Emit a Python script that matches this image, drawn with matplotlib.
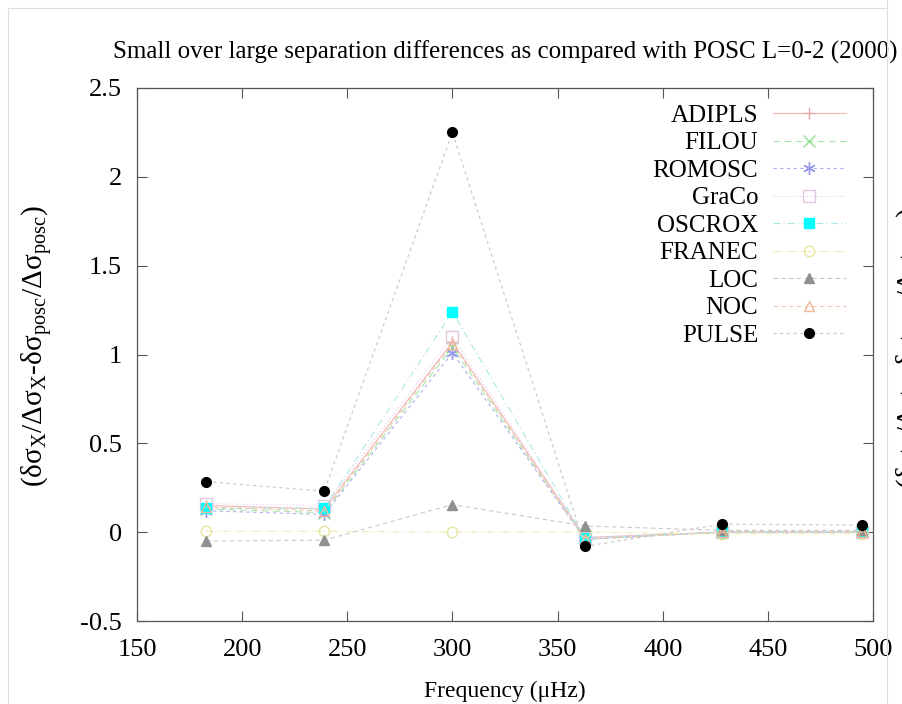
import matplotlib
matplotlib.use("Agg")
import matplotlib.pyplot as plt
from matplotlib.lines import Line2D
from matplotlib.ticker import FuncFormatter

plt.rcParams['font.family'] = ['Liberation Serif', 'DejaVu Serif']
plt.rcParams['mathtext.fontset'] = 'custom'
plt.rcParams['mathtext.rm'] = 'Liberation Serif'
plt.rcParams['mathtext.it'] = 'Liberation Serif:italic'

freq = [183, 239, 300, 363, 428, 495]
names = ["ADIPLS", "FILOU", "ROMOSC", "GraCo", "OSCROX", "FRANEC", "LOC", "NOC", "PULSE"]
adipls = [0.15, 0.13, 1.07, -0.03, 0.00, 0.00]
filou = [0.13, 0.11, 1.04, -0.04, 0.00, 0.00]
romosc = [0.12, 0.10, 1.01, -0.04, 0.00, 0.00]
graco = [0.16, 0.15, 1.10, -0.03, 0.00, 0.00]
oscrox = [0.135, 0.135, 1.24, -0.035, 0.00, 0.005]
franec = [0.005, 0.005, 0.00, 0.00, -0.01, -0.01]
loc = [-0.05, -0.045, 0.155, 0.035, 0.01, 0.01]
noc = [0.14, 0.12, 1.06, -0.04, 0.00, 0.00]
pulse = [0.285, 0.23, 2.25, -0.08, 0.045, 0.04]
series = [adipls, filou, romosc, graco, oscrox, franec, loc, noc, pulse]

styles = [
    dict(color='#f2b8b8', ls='-', marker='+', mec='#e8a8a8', mfc='none', ms=9),
    dict(color='#a8e6a8', ls=(0, (6, 4)), marker='x', mec='#90e090', mfc='none', ms=8),
    dict(color='#b0b0f0', ls=(0, (3, 3)), marker=(6, 2, 0), mec='#9898ee', mfc='none', ms=9),
    dict(color='#e8c8e8', ls=(0, (1, 2)), marker='s', mec='#e0c8e0', mfc='none', ms=8),
    dict(color='#a8e8e8', ls=(0, (6, 3, 1, 3)), marker='s', mec='#00ffff', mfc='#00ffff', ms=7.5),
    dict(color='#ececb0', ls=(0, (6, 2, 1, 2, 1, 2)), marker='o', mec='#e6e6a0', mfc='none', ms=7.5),
    dict(color='#c8c8c8', ls=(0, (4, 3)), marker='^', mec='#909090', mfc='#909090', ms=7.5),
    dict(color='#f0c8b0', ls=(0, (4, 3)), marker='^', mec='#f0b898', mfc='none', ms=7.5),
    dict(color='#c8c8c8', ls=(0, (3, 3)), marker='o', mec='black', mfc='black', ms=7),
]

fig = plt.figure(figsize=(9.03, 7.04), dpi=100)
ax = fig.add_axes([137/903, 1-621/704, (873-137)/903, (621-88)/704])

for name, vals, st in zip(names, series, styles):
    ax.plot(freq, vals, label=name, lw=0.8, color=st['color'], ls=st['ls'],
            marker=st['marker'], mec=st['mec'], mfc=st['mfc'], ms=st['ms'], mew=1.0)

ax.set_xlim(150, 500)
ax.set_ylim(-0.5, 2.5)
ax.set_xticks(range(150, 501, 50))
ax.set_yticks([-0.5, 0, 0.5, 1, 1.5, 2, 2.5])
ax.yaxis.set_major_formatter(FuncFormatter(lambda v, p: ('%g' % v)))
ax.tick_params(direction='in', top=True, right=True, length=7, width=0.8,
               labelsize=19, color='#555555')
ax.tick_params(axis='y', pad=11)
ax.tick_params(axis='x', pad=13)
for s in ax.spines.values():
    s.set_color('#555555')
    s.set_linewidth(0.9)

ax.set_title("Small over large separation differences as compared with POSC L=0-2 (2000)",
             fontsize=18, pad=21)
ax.set_xlabel("Frequency (μHz)", fontsize=17, labelpad=14)
ylab = r"(δσ$_\mathrm{X}$/Δσ$_\mathrm{X}$-δσ$_\mathrm{posc}$/Δσ$_\mathrm{posc}$)"
ax.set_ylabel(ylab, fontsize=21)
ax.yaxis.set_label_coords(-0.112, 0.515)

leg = ax.legend(loc='upper right', bbox_to_anchor=(0.985, 1.0), frameon=False,
                markerfirst=False, fontsize=18, handlelength=2.9, handletextpad=0.6,
                labelspacing=0.2, borderaxespad=0.25)
for col in leg._legend_handle_box.get_children():
    col.align = 'right'

# page edges / neighbouring figure fragment
fig.add_artist(Line2D([8/903, 8/903], [0, 1-8/704], transform=fig.transFigure, color='#dddddd', lw=0.8))
fig.add_artist(Line2D([8/903, 887/903], [1-8/704, 1-8/704], transform=fig.transFigure, color='#dddddd', lw=0.8))
fig.add_artist(Line2D([887/903, 887/903], [0, 1], transform=fig.transFigure, color='#dddddd', lw=0.8))
fig.text(895/903, 1-348/704, ylab, rotation=90, ha='left', va='center', fontsize=21)

fig.savefig("out.png", dpi=100)
